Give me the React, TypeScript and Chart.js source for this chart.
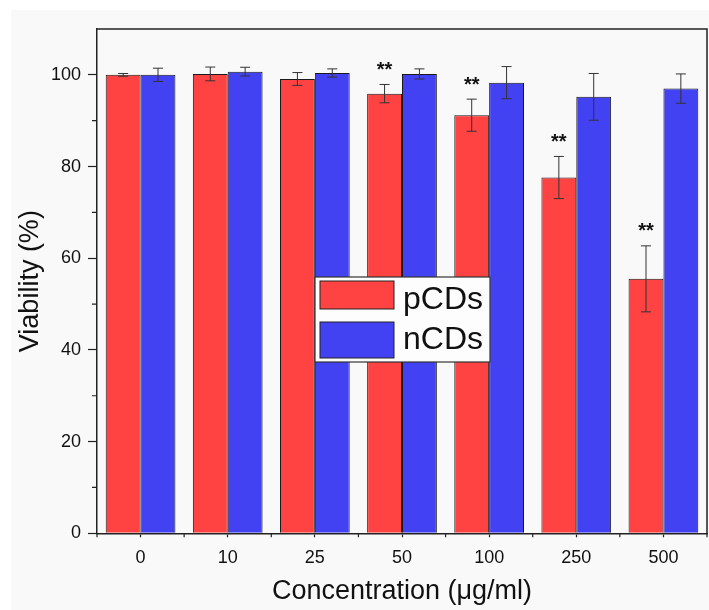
import React, { useEffect, useRef } from "react";
import { Chart, registerables } from "chart.js";

Chart.register(...registerables);

const categories = ["0", "10", "25", "50", "100", "250", "500"];
const pCDs = [100.0, 100.2, 99.1, 95.9, 91.2, 77.6, 55.5];
const pCDsErr = [0.3, 1.5, 1.4, 2.0, 3.5, 4.6, 7.2];
const nCDs = [100.0, 100.7, 100.4, 100.2, 98.3, 95.2, 97.0];
const nCDsErr = [1.45, 0.95, 0.9, 1.1, 3.5, 5.1, 3.2];
const significance = ["", "", "", "**", "**", "**", "**"];
const yMajorTicks = [0, 20, 40, 60, 80, 100];
const yMinorTicks = [10, 30, 50, 70, 90];

const FONT = "'Liberation Sans', Arial, sans-serif";
const RED = "#ff4242";
const BLUE = "#4242f2";
const AXIS = "#222222";

const errorsByDataset = [pCDsErr, nCDsErr];

const errorBarPlugin = {
  id: "errorBars",
  afterDatasetsDraw(chart: any) {
    const { ctx } = chart;
    const y = chart.scales.y;
    ctx.save();
    chart.data.datasets.forEach((ds: any, di: number) => {
      const meta = chart.getDatasetMeta(di);
      const errs = errorsByDataset[di];
      meta.data.forEach((bar: any, i: number) => {
        const v = ds.data[i];
        const e = errs[i];
        const yTop = y.getPixelForValue(v + e);
        const yBot = y.getPixelForValue(v - e);
        const x = bar.x;
        ctx.strokeStyle = "#333333";
        ctx.lineWidth = 1;
        ctx.beginPath();
        ctx.moveTo(x, yTop);
        ctx.lineTo(x, yBot);
        ctx.moveTo(x - 5, yTop);
        ctx.lineTo(x + 5, yTop);
        ctx.moveTo(x - 5, yBot);
        ctx.lineTo(x + 5, yBot);
        ctx.stroke();
        if (di === 0 && significance[i]) {
          ctx.fillStyle = "#111111";
          ctx.font = `bold 20px ${FONT}`;
          ctx.textAlign = "center";
          ctx.textBaseline = "middle";
          ctx.fillText(significance[i], x, yTop - 14);
        }
      });
    });
    ctx.restore();
  },
};

const framePlugin = {
  id: "frame",
  afterDraw(chart: any) {
    const { ctx, chartArea } = chart;
    const x = chart.scales.x;
    const y = chart.scales.y;
    ctx.save();
    ctx.strokeStyle = AXIS;
    ctx.lineWidth = 1.5;
    ctx.beginPath();
    ctx.moveTo(chartArea.left, chartArea.top);
    ctx.lineTo(chartArea.right, chartArea.top);
    ctx.lineTo(chartArea.right, chartArea.bottom);
    ctx.stroke();
    ctx.lineWidth = 1.2;
    ctx.beginPath();
    yMinorTicks.forEach((v) => {
      const py = y.getPixelForValue(v);
      ctx.moveTo(chartArea.left - 5, py);
      ctx.lineTo(chartArea.left, py);
    });
    const n = categories.length;
    const step = x.getPixelForValue(1) - x.getPixelForValue(0);
    for (let i = 0; i <= n; i++) {
      const px = x.getPixelForValue(0) - step / 2 + i * step;
      ctx.moveTo(px, chartArea.bottom);
      ctx.lineTo(px, chartArea.bottom + 4);
    }
    ctx.stroke();
    ctx.restore();
  },
};

const legendPlugin = {
  id: "boxLegend",
  afterDraw(chart: any) {
    const { ctx, chartArea } = chart;
    const left = chartArea.left + 218;
    const top = chartArea.top + 248;
    const w = 175;
    const h = 85;
    ctx.save();
    ctx.fillStyle = "#fdfdfd";
    ctx.fillRect(left, top, w, h);
    ctx.strokeStyle = "#333333";
    ctx.lineWidth = 1.2;
    ctx.strokeRect(left, top, w, h);
    const rows = [
      { y: top + 4, h: 28 },
      { y: top + 45, h: 36 },
    ];
    chart.data.datasets.forEach((ds: any, i: number) => {
      const r = rows[i];
      ctx.fillStyle = ds.backgroundColor;
      ctx.fillRect(left + 5, r.y, 74, r.h);
      ctx.strokeStyle = "#222222";
      ctx.lineWidth = 1;
      ctx.strokeRect(left + 5, r.y, 74, r.h);
      ctx.fillStyle = "#111111";
      ctx.font = `32px ${FONT}`;
      ctx.textAlign = "left";
      ctx.textBaseline = "middle";
      ctx.fillText(ds.label, left + 88, top + (i === 0 ? 23 : 63));
    });
    ctx.restore();
  },
};

export default function App() {
  const ref = useRef<HTMLCanvasElement>(null);
  useEffect(() => {
    const canvas = ref.current!;
    const chart = new Chart(canvas, {
      type: "bar",
      data: {
        labels: categories,
        datasets: [
          {
            label: "pCDs",
            data: pCDs,
            backgroundColor: RED,
            borderColor: "#1a1a1a",
            borderWidth: 1,
            categoryPercentage: 0.8,
            barPercentage: 1.0,
          },
          {
            label: "nCDs",
            data: nCDs,
            backgroundColor: BLUE,
            borderColor: "#1a1a1a",
            borderWidth: 1,
            categoryPercentage: 0.8,
            barPercentage: 1.0,
          },
        ],
      },
      options: {
        responsive: false,
        animation: false,
        layout: { padding: { top: 19, right: 2, left: 0, bottom: 0 } },
        plugins: {
          legend: { display: false },
          tooltip: { enabled: false },
        },
        scales: {
          x: {
            offset: true,
            grid: {
              offset: false,
              drawOnChartArea: false,
              tickLength: 4,
              tickColor: AXIS,
              tickWidth: 1.2,
            },
            border: { display: true, color: AXIS, width: 1.5 },
            ticks: {
              color: "#111111",
              font: { family: FONT, size: 18 },
              padding: 10,
              maxRotation: 0,
            },
            title: {
              display: true,
              text: "Concentration (μg/ml)",
              color: "#111111",
              font: { family: FONT, size: 27 },
              padding: { top: 0, bottom: 2 },
            },
            afterFit(scale: any) {
              scale.height = 76.7;
            },
          },
          y: {
            min: 0,
            max: 110,
            grid: {
              drawOnChartArea: false,
              tickLength: 9,
              tickColor: AXIS,
              tickWidth: 1.2,
            },
            border: { display: true, color: AXIS, width: 1.5 },
            afterBuildTicks(scale: any) {
              scale.ticks = yMajorTicks.map((v) => ({ value: v }));
            },
            ticks: {
              color: "#111111",
              font: { family: FONT, size: 18 },
              padding: 7,
            },
            title: {
              display: true,
              text: "Viability (%)",
              color: "#111111",
              font: { family: FONT, size: 27 },
              padding: { top: 3, bottom: 0 },
            },
            afterFit(scale: any) {
              scale.width = 86;
            },
          },
        },
      },
      plugins: [errorBarPlugin, framePlugin, legendPlugin],
    });
    return () => chart.destroy();
  }, []);
  return (
    <div
      style={{
        position: "fixed",
        left: 11,
        top: 10,
        width: 698,
        height: 600,
        background: "#f9f9f9",
      }}
    >
      <canvas
        ref={ref}
        width={698}
        height={600}
        style={{ display: "block", width: 698, height: 600 }}
      />
    </div>
  );
}
